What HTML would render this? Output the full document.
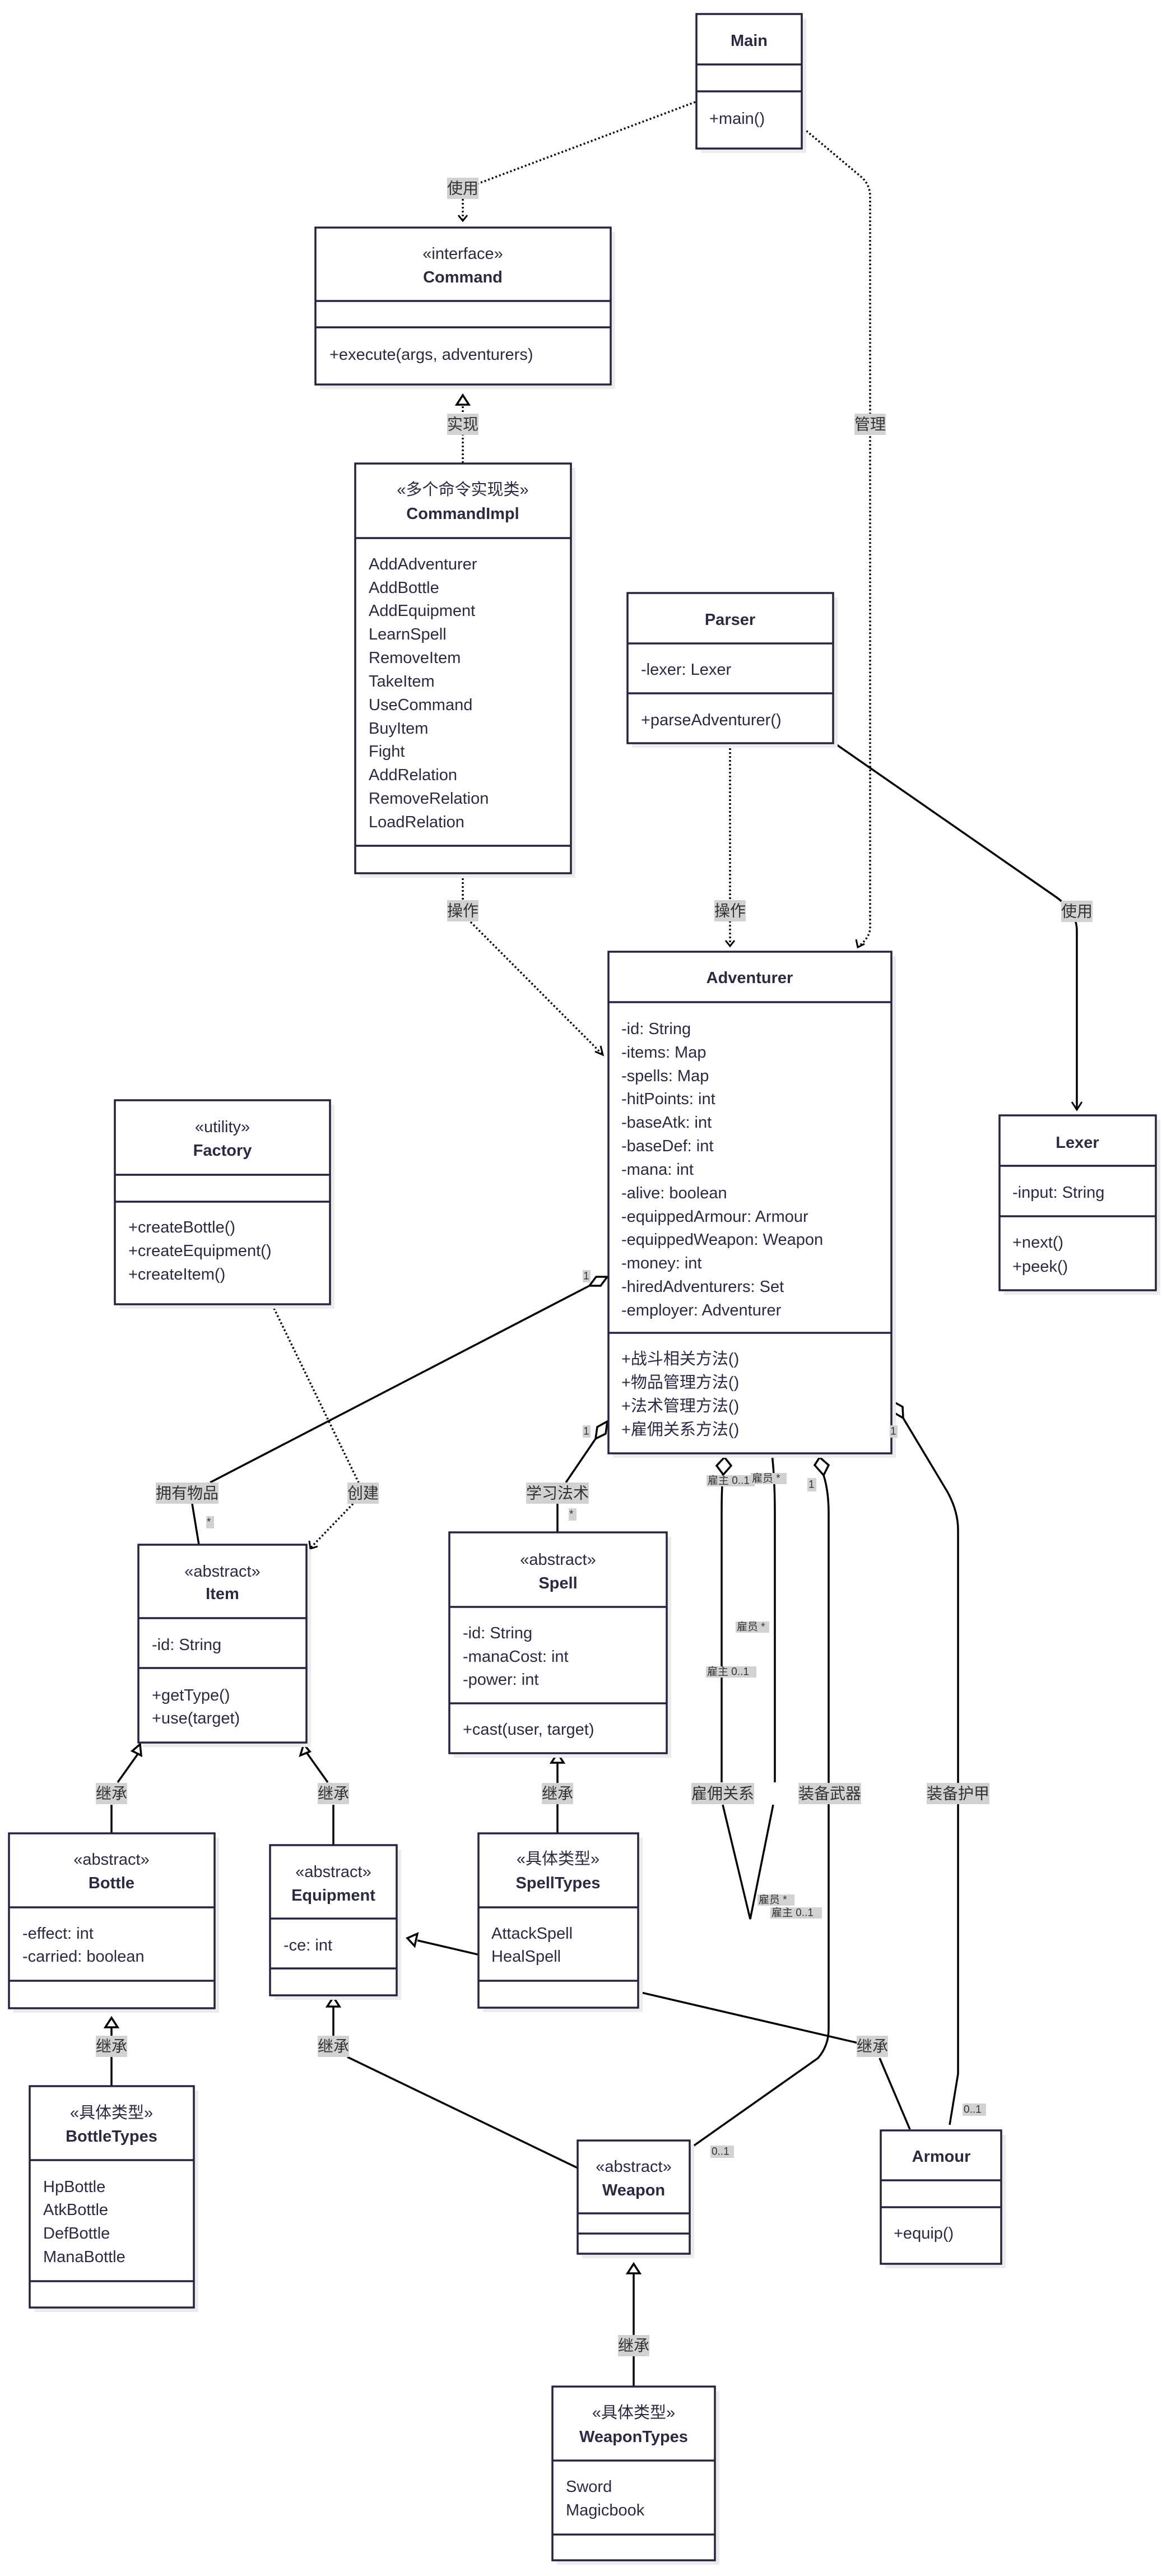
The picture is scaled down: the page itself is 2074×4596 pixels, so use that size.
<!DOCTYPE html>
<html><head><meta charset="utf-8"><style>
html,body{margin:0;padding:0;background:#fff;}
svg{display:block;}
text{font-family:"Liberation Sans","Noto Sans CJK SC",sans-serif;fill:#2a2a40;}
.t{font-size:29px;dominant-baseline:central;}
.c{text-anchor:middle;}
.b{font-weight:bold;}
.box{fill:#fff;stroke:#24243e;stroke-width:3.5;}
.sh{fill:#ececee;}
.ln{stroke:#24243e;stroke-width:3.5;}
.e{fill:none;stroke:#000;stroke-width:3.5;}
.d{fill:none;stroke:#000;stroke-width:3.5;stroke-dasharray:3 4;}
.lb{fill:#d2d2d2;}
.lt{font-size:28px;text-anchor:middle;dominant-baseline:central;fill:#333;}
.sm{font-size:19px;dominant-baseline:central;fill:#333;}
.hol{fill:#fff;stroke:#000;stroke-width:3.5;}
</style></head><body>
<svg width="2074" height="4596" viewBox="0 0 2074 4596" xmlns="http://www.w3.org/2000/svg">

<!-- ===== connectors ===== -->
<!-- Main -> Command 使用 -->
<path class="d" d="M1241,182 L852,328"/>
<path class="d" d="M826,355 L826,392"/>
<path class="e" d="M818,384 L826,394 L834,384" style="stroke-width:3"/>
<!-- 实现 -->
<path class="d" d="M826,826 L826,722"/>
<polygon class="hol" points="826,705 815,722 837,722"/>
<!-- 管理 -->
<path class="d" d="M1434,229 L1540,318 Q1553,332 1553,350 L1553,1655 Q1553,1672 1533,1688"/>
<path class="e" d="M1528,1676 L1531,1690 L1543,1684" style="stroke-width:3"/>
<!-- CommandImpl -> Adventurer 操作 -->
<path class="d" d="M826,1560 L826,1610"/>
<path class="d" d="M840,1645 L1074,1880"/>
<path class="e" d="M1062,1876 L1076,1882 L1072,1866" style="stroke-width:3"/>
<!-- Parser -> Adventurer 操作 -->
<path class="d" d="M1303,1328 L1303,1686"/>
<path class="e" d="M1295,1678 L1303,1688 L1311,1678" style="stroke-width:3"/>
<!-- Parser -> Lexer 使用 -->
<path class="e" d="M1488,1325 L1880,1597 Q1922,1625 1922,1660 L1922,1980"/>
<path class="e" d="M1913,1966 L1922,1980 L1931,1966" style="stroke-width:3"/>

<!-- 拥有物品 -->
<path class="e" d="M1052,2294 L375,2645"/>
<path class="e" d="M343,2683 L355,2756"/>
<polygon class="hol" points="1084,2278 1072,2294 1052,2294 1064,2278"/>
<!-- 创建 -->
<path class="d" d="M486,2328 L640,2645"/>
<path class="d" d="M630,2683 L554,2762"/>
<path class="e" d="M552,2749 L554,2763 L567,2759" style="stroke-width:3"/>
<!-- 学习法术 -->
<path class="e" d="M1063,2567 L1010,2645"/>
<path class="e" d="M995,2683 L995,2734"/>
<polygon class="hol" points="1084,2536 1081,2558 1063,2567 1066,2546"/>
<!-- 雇佣关系 self loop -->
<path class="e" d="M1290,2631 Q1288,2660 1288,2700 L1288,3180"/>
<path class="e" d="M1290,3220 L1339,3424 L1380,3220"/>
<path class="e" d="M1378,2595 Q1383,2640 1383,2700 L1383,3180"/>
<polygon class="hol" points="1293,2600 1305,2615 1291,2631 1279,2615"/>
<!-- 装备武器 -->
<path class="e" d="M1470,2632 Q1479,2660 1479,2700 L1479,3620 Q1479,3650 1460,3672 L1233,3832"/>
<polygon class="hol" points="1463,2600 1479,2614 1470,2632 1454,2614"/>
<!-- 装备护甲 -->
<path class="e" d="M1612,2530 L1690,2660 Q1710,2695 1710,2730 L1710,3700 L1695,3791"/>
<polygon class="hol" points="1593,2500 1611,2510 1612,2530 1595,2520"/>

<!-- inheritance -->
<path class="e" d="M199,3271 L199,3220"/>
<path class="e" d="M210,3180 L247,3128"/>
<polygon class="hol" points="250,3112 236,3124 252,3132"/>
<path class="e" d="M595,3292 L595,3220"/>
<path class="e" d="M585,3180 L548,3128"/>
<polygon class="hol" points="542,3112 536,3132 553,3125"/>
<path class="e" d="M995,3271 L995,3145"/>
<polygon class="hol" points="995,3128 984,3145 1006,3145"/>
<!-- Armour -> Equipment -->
<path class="e" d="M1624,3799 L1570,3672"/>
<path class="e" d="M1540,3647 L745,3462"/>
<polygon class="hol" points="727,3458 745,3450 740,3472"/>
<!-- BottleTypes -> Bottle -->
<path class="e" d="M199,3722 L199,3616"/>
<polygon class="hol" points="199,3600 188,3617 210,3617"/>
<!-- Weapon -> Equipment -->
<path class="e" d="M1031,3868 L620,3670"/>
<path class="e" d="M595,3632 L595,3580"/>
<polygon class="hol" points="595,3563 584,3580 606,3580"/>
<!-- WeaponTypes -> Weapon -->
<path class="e" d="M1131,4258 L1131,4056"/>
<polygon class="hol" points="1131,4039 1120,4056 1142,4056"/>

<!-- ===== boxes ===== -->
<!-- Main -->
<rect class="sh" x="1251" y="33" width="188" height="240"/>
<rect class="box" x="1243" y="25" width="188" height="240"/>
<line class="ln" x1="1243" y1="115" x2="1431" y2="115"/><line class="ln" x1="1243" y1="163" x2="1431" y2="163"/>
<text class="t c b" x="1337" y="73">Main</text>
<text class="t" x="1266" y="212">+main()</text>

<!-- Command -->
<rect class="sh" x="571" y="414" width="527" height="280"/>
<rect class="box" x="563" y="406" width="527" height="280"/>
<line class="ln" x1="563" y1="537" x2="1090" y2="537"/><line class="ln" x1="563" y1="584" x2="1090" y2="584"/>
<text class="t c" x="826" y="453">«interface»</text>
<text class="t c b" x="826" y="495">Command</text>
<text class="t" x="588" y="633">+execute(args, adventurers)</text>

<!-- CommandImpl -->
<rect class="sh" x="642" y="835" width="385" height="731"/>
<rect class="box" x="634" y="827" width="385" height="731"/>
<line class="ln" x1="634" y1="960" x2="1019" y2="960"/><line class="ln" x1="634" y1="1509" x2="1019" y2="1509"/>
<text class="t c" x="826" y="874">«多个命令实现类»</text>
<text class="t c b" x="826" y="917">CommandImpl</text>
<text class="t" x="658" y="1007">AddAdventurer</text>
<text class="t" x="658" y="1049">AddBottle</text>
<text class="t" x="658" y="1090">AddEquipment</text>
<text class="t" x="658" y="1132">LearnSpell</text>
<text class="t" x="658" y="1174">RemoveItem</text>
<text class="t" x="658" y="1216">TakeItem</text>
<text class="t" x="658" y="1258">UseCommand</text>
<text class="t" x="658" y="1300">BuyItem</text>
<text class="t" x="658" y="1341">Fight</text>
<text class="t" x="658" y="1383">AddRelation</text>
<text class="t" x="658" y="1425">RemoveRelation</text>
<text class="t" x="658" y="1467">LoadRelation</text>

<!-- Parser -->
<rect class="sh" x="1128" y="1066" width="367" height="268"/>
<rect class="box" x="1120" y="1058" width="367" height="268"/>
<line class="ln" x1="1120" y1="1148" x2="1487" y2="1148"/><line class="ln" x1="1120" y1="1237" x2="1487" y2="1237"/>
<text class="t c b" x="1303" y="1106">Parser</text>
<text class="t" x="1144" y="1195">-lexer: Lexer</text>
<text class="t" x="1144" y="1285">+parseAdventurer()</text>

<!-- Adventurer -->
<rect class="sh" x="1094" y="1706" width="505" height="895"/>
<rect class="box" x="1086" y="1698" width="505" height="895"/>
<line class="ln" x1="1086" y1="1788" x2="1591" y2="1788"/><line class="ln" x1="1086" y1="2378" x2="1591" y2="2378"/>
<text class="t c b" x="1338" y="1745">Adventurer</text>
<text class="t" x="1109" y="1836">-id: String</text>
<text class="t" x="1109" y="1878">-items: Map</text>
<text class="t" x="1109" y="1920">-spells: Map</text>
<text class="t" x="1109" y="1961">-hitPoints: int</text>
<text class="t" x="1109" y="2003">-baseAtk: int</text>
<text class="t" x="1109" y="2045">-baseDef: int</text>
<text class="t" x="1109" y="2087">-mana: int</text>
<text class="t" x="1109" y="2129">-alive: boolean</text>
<text class="t" x="1109" y="2171">-equippedArmour: Armour</text>
<text class="t" x="1109" y="2212">-equippedWeapon: Weapon</text>
<text class="t" x="1109" y="2254">-money: int</text>
<text class="t" x="1109" y="2296">-hiredAdventurers: Set</text>
<text class="t" x="1109" y="2338">-employer: Adventurer</text>
<text class="t" x="1109" y="2425">+战斗相关方法()</text>
<text class="t" x="1109" y="2467">+物品管理方法()</text>
<text class="t" x="1109" y="2509">+法术管理方法()</text>
<text class="t" x="1109" y="2551">+雇佣关系方法()</text>

<!-- Lexer -->
<rect class="sh" x="1792" y="1998" width="279" height="312"/>
<rect class="box" x="1784" y="1990" width="279" height="312"/>
<line class="ln" x1="1784" y1="2080" x2="2063" y2="2080"/><line class="ln" x1="1784" y1="2170" x2="2063" y2="2170"/>
<text class="t c b" x="1923" y="2039">Lexer</text>
<text class="t" x="1807" y="2128">-input: String</text>
<text class="t" x="1807" y="2217">+next()</text>
<text class="t" x="1807" y="2260">+peek()</text>

<!-- Factory -->
<rect class="sh" x="213" y="1971" width="384" height="364"/>
<rect class="box" x="205" y="1963" width="384" height="364"/>
<line class="ln" x1="205" y1="2096" x2="589" y2="2096"/><line class="ln" x1="205" y1="2144" x2="589" y2="2144"/>
<text class="t c" x="397" y="2011">«utility»</text>
<text class="t c b" x="397" y="2053">Factory</text>
<text class="t" x="229" y="2190">+createBottle()</text>
<text class="t" x="229" y="2232">+createEquipment()</text>
<text class="t" x="229" y="2274">+createItem()</text>

<!-- Item -->
<rect class="sh" x="255" y="2764" width="300" height="353"/>
<rect class="box" x="247" y="2756" width="300" height="353"/>
<line class="ln" x1="247" y1="2887" x2="547" y2="2887"/><line class="ln" x1="247" y1="2976" x2="547" y2="2976"/>
<text class="t c" x="397" y="2804">«abstract»</text>
<text class="t c b" x="397" y="2844">Item</text>
<text class="t" x="271" y="2935">-id: String</text>
<text class="t" x="271" y="3025">+getType()</text>
<text class="t" x="271" y="3066">+use(target)</text>

<!-- Spell -->
<rect class="sh" x="810" y="2742" width="388" height="394"/>
<rect class="box" x="802" y="2734" width="388" height="394"/>
<line class="ln" x1="802" y1="2867" x2="1190" y2="2867"/><line class="ln" x1="802" y1="3039" x2="1190" y2="3039"/>
<text class="t c" x="996" y="2783">«abstract»</text>
<text class="t c b" x="996" y="2825">Spell</text>
<text class="t" x="826" y="2914">-id: String</text>
<text class="t" x="826" y="2956">-manaCost: int</text>
<text class="t" x="826" y="2997">-power: int</text>
<text class="t" x="826" y="3086">+cast(user, target)</text>

<!-- Bottle -->
<rect class="sh" x="24" y="3279" width="367" height="312"/>
<rect class="box" x="16" y="3271" width="367" height="312"/>
<line class="ln" x1="16" y1="3403" x2="383" y2="3403"/><line class="ln" x1="16" y1="3534" x2="383" y2="3534"/>
<text class="t c" x="199" y="3318">«abstract»</text>
<text class="t c b" x="199" y="3360">Bottle</text>
<text class="t" x="40" y="3450">-effect: int</text>
<text class="t" x="40" y="3491">-carried: boolean</text>

<!-- Equipment -->
<rect class="sh" x="490" y="3300" width="226" height="268"/>
<rect class="box" x="482" y="3292" width="226" height="268"/>
<line class="ln" x1="482" y1="3423" x2="708" y2="3423"/><line class="ln" x1="482" y1="3512" x2="708" y2="3512"/>
<text class="t c" x="595" y="3340">«abstract»</text>
<text class="t c b" x="595" y="3382">Equipment</text>
<text class="t" x="506" y="3471">-ce: int</text>

<!-- SpellTypes -->
<rect class="sh" x="862" y="3279" width="285" height="311"/>
<rect class="box" x="854" y="3271" width="285" height="311"/>
<line class="ln" x1="854" y1="3403" x2="1139" y2="3403"/><line class="ln" x1="854" y1="3534" x2="1139" y2="3534"/>
<text class="t c" x="996" y="3317">«具体类型»</text>
<text class="t c b" x="996" y="3360">SpellTypes</text>
<text class="t" x="877" y="3450">AttackSpell</text>
<text class="t" x="877" y="3491">HealSpell</text>

<!-- BottleTypes -->
<rect class="sh" x="61" y="3730" width="293" height="395"/>
<rect class="box" x="53" y="3722" width="293" height="395"/>
<line class="ln" x1="53" y1="3854" x2="346" y2="3854"/><line class="ln" x1="53" y1="4070" x2="346" y2="4070"/>
<text class="t c" x="199" y="3770">«具体类型»</text>
<text class="t c b" x="199" y="3812">BottleTypes</text>
<text class="t" x="77" y="3902">HpBottle</text>
<text class="t" x="77" y="3943">AtkBottle</text>
<text class="t" x="77" y="3985">DefBottle</text>
<text class="t" x="77" y="4027">ManaBottle</text>

<!-- Weapon -->
<rect class="sh" x="1039" y="3827" width="200" height="202"/>
<rect class="box" x="1031" y="3819" width="200" height="202"/>
<line class="ln" x1="1031" y1="3949" x2="1231" y2="3949"/><line class="ln" x1="1031" y1="3985" x2="1231" y2="3985"/>
<text class="t c" x="1131" y="3866">«abstract»</text>
<text class="t c b" x="1131" y="3908">Weapon</text>

<!-- Armour -->
<rect class="sh" x="1580" y="3809" width="215" height="238"/>
<rect class="box" x="1572" y="3801" width="215" height="238"/>
<line class="ln" x1="1572" y1="3890" x2="1787" y2="3890"/><line class="ln" x1="1572" y1="3938" x2="1787" y2="3938"/>
<text class="t c b" x="1680" y="3848">Armour</text>
<text class="t" x="1595" y="3985">+equip()</text>

<!-- WeaponTypes -->
<rect class="sh" x="994" y="4266" width="290" height="310"/>
<rect class="box" x="986" y="4258" width="290" height="310"/>
<line class="ln" x1="986" y1="4390" x2="1276" y2="4390"/><line class="ln" x1="986" y1="4522" x2="1276" y2="4522"/>
<text class="t c" x="1131" y="4305">«具体类型»</text>
<text class="t c b" x="1131" y="4348">WeaponTypes</text>
<text class="t" x="1010" y="4437">Sword</text>
<text class="t" x="1010" y="4479">Magicbook</text>

<!-- ===== edge labels ===== -->
<rect class="lb" x="798" y="317" width="56" height="38"/><text class="lt" x="826" y="336">使用</text>
<rect class="lb" x="798" y="738" width="56" height="38"/><text class="lt" x="826" y="757">实现</text>
<rect class="lb" x="1525" y="738" width="56" height="38"/><text class="lt" x="1553" y="757">管理</text>
<rect class="lb" x="798" y="1606" width="56" height="38"/><text class="lt" x="826" y="1625">操作</text>
<rect class="lb" x="1275" y="1606" width="56" height="38"/><text class="lt" x="1303" y="1625">操作</text>
<rect class="lb" x="1894" y="1607" width="56" height="38"/><text class="lt" x="1922" y="1626">使用</text>
<rect class="lb" x="278" y="2645" width="112" height="38"/><text class="lt" x="334" y="2664">拥有物品</text>
<rect class="lb" x="620" y="2645" width="56" height="38"/><text class="lt" x="648" y="2664">创建</text>
<rect class="lb" x="939" y="2645" width="112" height="38"/><text class="lt" x="995" y="2664">学习法术</text>
<rect class="lb" x="1234" y="3181" width="112" height="38"/><text class="lt" x="1290" y="3200">雇佣关系</text>
<rect class="lb" x="1425" y="3181" width="112" height="38"/><text class="lt" x="1481" y="3200">装备武器</text>
<rect class="lb" x="1654" y="3181" width="112" height="38"/><text class="lt" x="1710" y="3200">装备护甲</text>
<rect class="lb" x="171" y="3181" width="56" height="38"/><text class="lt" x="199" y="3200">继承</text>
<rect class="lb" x="567" y="3181" width="56" height="38"/><text class="lt" x="595" y="3200">继承</text>
<rect class="lb" x="967" y="3181" width="56" height="38"/><text class="lt" x="995" y="3200">继承</text>
<rect class="lb" x="171" y="3632" width="56" height="38"/><text class="lt" x="199" y="3651">继承</text>
<rect class="lb" x="567" y="3632" width="56" height="38"/><text class="lt" x="595" y="3651">继承</text>
<rect class="lb" x="1529" y="3632" width="56" height="38"/><text class="lt" x="1557" y="3651">继承</text>
<rect class="lb" x="1103" y="4166" width="56" height="38"/><text class="lt" x="1131" y="4185">继承</text>

<!-- multiplicities -->
<rect class="lb" x="1040" y="2266" width="14" height="22"/><text class="sm" x="1041" y="2277">1</text>
<rect class="lb" x="368" y="2705" width="14" height="22"/><text class="sm" x="369" y="2716">*</text>
<rect class="lb" x="1040" y="2543" width="14" height="22"/><text class="sm" x="1041" y="2554">1</text>
<rect class="lb" x="1015" y="2691" width="14" height="22"/><text class="sm" x="1016" y="2702">*</text>
<rect class="lb" x="1588" y="2543" width="14" height="22"/><text class="sm" x="1589" y="2554">1</text>
<rect class="lb" x="1441" y="2637" width="16" height="24"/><text class="sm" x="1443" y="2649">1</text>
<rect class="lb" x="1261" y="2632" width="86" height="20"/><text class="sm" x="1263" y="2642">雇主 0..1</text>
<rect class="lb" x="1340" y="2628" width="64" height="20"/><text class="sm" x="1342" y="2638">雇员 *</text>
<rect class="lb" x="1313" y="2893" width="60" height="20"/><text class="sm" x="1315" y="2903">雇员 *</text>
<rect class="lb" x="1260" y="2973" width="90" height="20"/><text class="sm" x="1262" y="2983">雇主 0..1</text>
<rect class="lb" x="1352" y="3380" width="66" height="20"/><text class="sm" x="1354" y="3390">雇员 *</text>
<rect class="lb" x="1375" y="3403" width="92" height="20"/><text class="sm" x="1377" y="3413">雇主 0..1</text>
<rect class="lb" x="1268" y="3828" width="42" height="22"/><text class="sm" x="1270" y="3839">0..1</text>
<rect class="lb" x="1718" y="3753" width="42" height="22"/><text class="sm" x="1720" y="3764">0..1</text>
</svg>
</body></html>
